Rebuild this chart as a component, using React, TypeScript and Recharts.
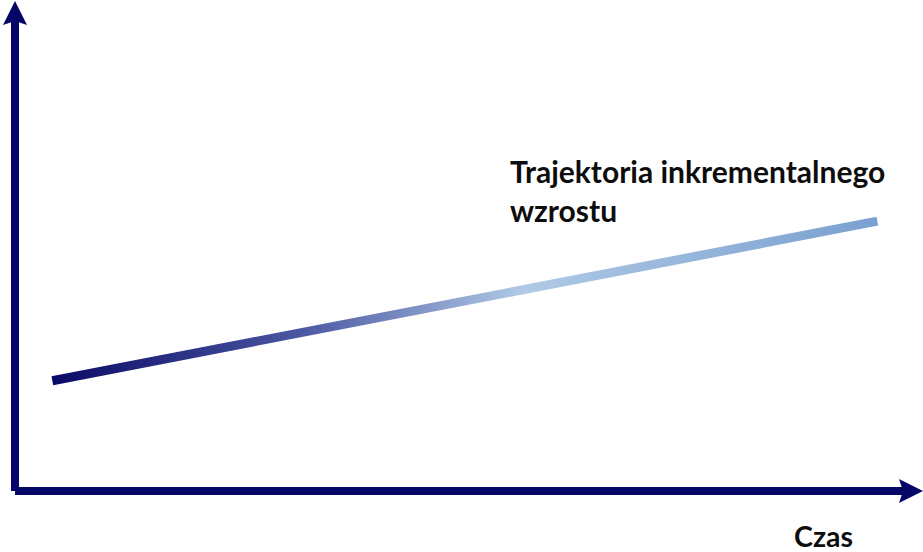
import { LineChart, Line, XAxis, YAxis, Label } from "recharts";

// czas (oś X) i poziom (oś Y) – dwa końce trajektorii
const czas = [4.2, 97];
const poziom = [23.4, 57.3];

const dane = czas.map((t, i) => ({ czas: t, poziom: poziom[i] }));

const GRANAT = "#060668";
const napis = { fontFamily: "Lato", fontWeight: 700, fontSize: 30, fill: "#0d0d0d" };

export default function App() {
  return (
    <div style={{ position: "absolute", left: 0, top: 0, background: "#fff" }}>
      <LineChart
        width={923}
        height={552}
        data={dane}
        margin={{ top: 20, right: 19, left: 0, bottom: 0 }}
      >
        <defs>
          <linearGradient id="trajektoria" x1="0" y1="0" x2="1" y2="0">
            <stop offset="0%" stopColor="#0a0a66" />
            <stop offset="30%" stopColor="#4b57a2" />
            <stop offset="57%" stopColor="#b0c9e5" />
            <stop offset="100%" stopColor="#79a0d0" />
          </linearGradient>
          <marker
            id="grot"
            viewBox="0 0 24 24"
            markerWidth={24}
            markerHeight={25}
            markerUnits="userSpaceOnUse"
            refX={5}
            refY={12}
            orient="auto-start-reverse"
          >
            <path d="M0,0 L24,12 L0,24 L4,12 Z" fill={GRANAT} />
          </marker>
        </defs>
        <XAxis
          type="number"
          dataKey="czas"
          domain={[0, 100]}
          height={61}
          tick={false}
          tickLine={false}
          axisLine={{ stroke: GRANAT, strokeWidth: 8, markerEnd: "url(#grot)" }}
        >
          <Label
            value="Czas"
            position="insideBottomRight"
            offset={0}
            dx={-51}
            dy={-5}
            style={{ ...napis, fontSize: 28.5 }}
          />
        </XAxis>
        <YAxis
          type="number"
          domain={[0, 100]}
          width={15}
          tick={false}
          tickLine={false}
          axisLine={{ stroke: GRANAT, strokeWidth: 8, markerStart: "url(#grot)" }}
        />
        <Line
          type="linear"
          dataKey="poziom"
          stroke="url(#trajektoria)"
          strokeWidth={9}
          strokeLinecap="butt"
          dot={false}
          activeDot={false}
          isAnimationActive={false}
        />
        <text x={510} y={183} style={napis}>
          Trajektoria inkrementalnego
        </text>
        <text x={510} y={222} style={napis}>
          wzrostu
        </text>
      </LineChart>
    </div>
  );
}
